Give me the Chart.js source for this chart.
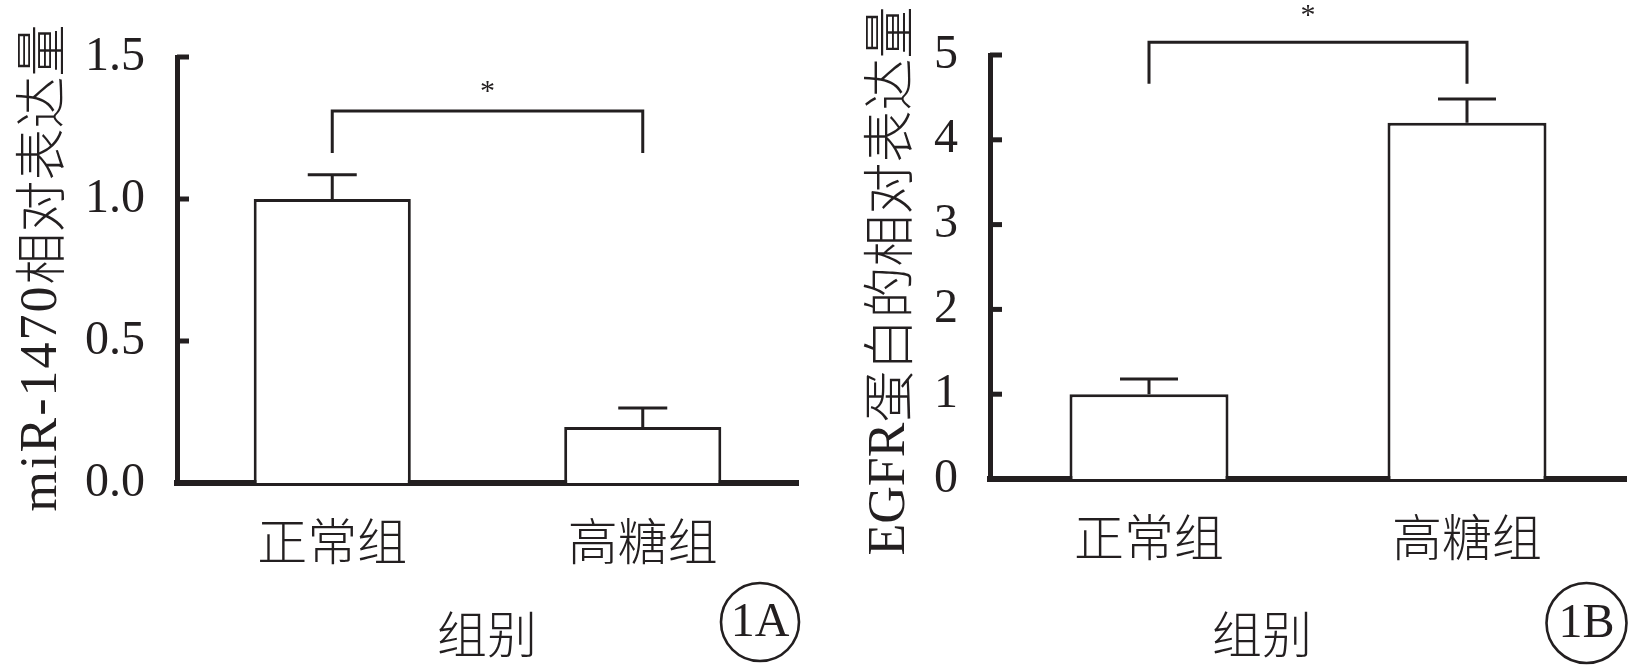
<!DOCTYPE html>
<html><head><meta charset="utf-8">
<script src="https://cdn.jsdelivr.net/npm/chart.js@4"></script>
<style>
html,body{margin:0;padding:0;background:#fff;width:1634px;height:669px;overflow:hidden}
canvas{position:absolute;top:0}
#cA{left:0}
#cB{left:817px}
</style></head><body>
<canvas id="cA" width="817" height="669"></canvas>
<canvas id="cB" width="817" height="669"></canvas>
<script>
// ---- data ----
const categories = ['正常组', '高糖组'];
const mirValues = [1.0, 0.197];
const mirErrors = [0.085, 0.067];
const mirTicks = [0, 0.5, 1.0, 1.5];
const mirBracket = [1.31, 1.162];   // bracket level, leg end
const mirStar = 1.403;
const egfrValues = [1.0, 4.20];
const egfrErrors = [0.18, 0.28];
const egfrTicks = [0, 1, 2, 3, 4, 5];
const egfrBracket = [5.15, 4.66];
const egfrStar = 5.548;

const INK = '#231f20';
const SERIF = '"Liberation Serif", "Times New Roman", serif';
const CJK = '"Noto Sans CJK SC", "Noto Sans CJK JP", sans-serif';

function annotPlugin(cfg) {
  return {
    id: 'annot',
    afterDatasetsDraw(chart) {
      const {ctx, chartArea} = chart;
      const xs = chart.scales.x, ys = chart.scales.y;
      ctx.save();
      ctx.strokeStyle = INK; ctx.fillStyle = INK; ctx.lineCap = 'butt'; ctx.lineJoin = 'miter';
      // inward ticks
      ctx.lineWidth = 5;
      ys.ticks.forEach(t => {
        const py = ys.getPixelForValue(t.value);
        ctx.beginPath(); ctx.moveTo(chartArea.left, py); ctx.lineTo(chartArea.left + 12, py); ctx.stroke();
      });
      // error bars
      ctx.lineWidth = 3;
      cfg.values.forEach((v, i) => {
        const px = xs.getPixelForValue(i);
        const top = ys.getPixelForValue(v), end = ys.getPixelForValue(v + cfg.errors[i]);
        ctx.beginPath();
        ctx.moveTo(px, top); ctx.lineTo(px, end);
        ctx.moveTo(px - cfg.cap / 2, end); ctx.lineTo(px + cfg.cap / 2, end);
        ctx.stroke();
      });
      // significance bracket
      const x0 = xs.getPixelForValue(0), x1 = xs.getPixelForValue(1);
      const by = ys.getPixelForValue(cfg.bracket[0]), ly = ys.getPixelForValue(cfg.bracket[1]);
      ctx.beginPath();
      ctx.moveTo(x0, ly); ctx.lineTo(x0, by); ctx.lineTo(x1, by); ctx.lineTo(x1, ly);
      ctx.stroke();
      // star
      ctx.font = '30px ' + SERIF;
      ctx.textAlign = 'center'; ctx.textBaseline = 'alphabetic';
      ctx.fillText('*', (x0 + x1) / 2, ys.getPixelForValue(cfg.star) + 15);
      // y title: latin part (serif) + CJK part
      ctx.save();
      ctx.translate(cfg.yTitlePos[0], cfg.yTitlePos[1]);
      ctx.rotate(-Math.PI / 2);
      ctx.textBaseline = 'middle'; ctx.textAlign = 'left';
      ctx.font = '52px ' + SERIF;
      ctx.letterSpacing = cfg.latinSpacing + 'px';
      const wL = ctx.measureText(cfg.yTitle[0]).width;
      ctx.font = '300 52px ' + CJK;
      ctx.letterSpacing = '0px';
      const wC = ctx.measureText(cfg.yTitle[1]).width;
      const start = -(wL + wC) / 2;
      ctx.font = '52px ' + SERIF;
      ctx.letterSpacing = cfg.latinSpacing + 'px';
      ctx.fillText(cfg.yTitle[0], start, 2);
      ctx.font = '300 52px ' + CJK;
      ctx.letterSpacing = '0px';
      ctx.fillText(cfg.yTitle[1], start + wL, 0);
      ctx.restore();
      // x title
      ctx.font = '300 50px ' + CJK;
      ctx.textAlign = 'center'; ctx.textBaseline = 'middle';
      ctx.fillText('组别', cfg.xTitlePos[0], cfg.xTitlePos[1]);
      // panel label
      ctx.lineWidth = 2.6;
      ctx.beginPath();
      ctx.arc(cfg.panelPos[0], cfg.panelPos[1], cfg.panelR, 0, Math.PI * 2);
      ctx.stroke();
      ctx.font = '48px ' + SERIF;
      ctx.fillText(cfg.panel, cfg.panelPos[0], cfg.panelPos[1] + 1);
      ctx.restore();
    }
  };
}

function makeChart(id, opt) {
  return new Chart(document.getElementById(id), {
    type: 'bar',
    data: {
      labels: categories,
      datasets: [{
        data: opt.values,
        backgroundColor: '#ffffff',
        borderColor: INK,
        borderWidth: 3,
        barPercentage: opt.barPct,
        categoryPercentage: 1.0
      }]
    },
    options: {
      responsive: false,
      animation: false,
      events: [],
      layout: {padding: {left: 0, right: opt.padRight, top: opt.padTop, bottom: 0}},
      plugins: {legend: {display: false}, tooltip: {enabled: false}, title: {display: false}},
      scales: {
        x: {
          offset: true,
          grid: {display: false, drawTicks: false},
          border: {display: true, width: 6, color: INK},
          ticks: {color: INK, font: {family: CJK, size: 50, weight: 300}, padding: opt.xPad, maxRotation: 0},
          afterFit: s => { s.height = opt.xHeight; s.paddingLeft = 0; s.paddingRight = 0; }
        },
        y: {
          min: 0, max: opt.max,
          grid: {display: false, drawTicks: false},
          border: {display: true, width: 5, color: INK},
          afterBuildTicks: s => { s.ticks = opt.ticks.map(v => ({value: v})); },
          ticks: {
            color: INK, font: {family: SERIF, size: 48}, padding: 32,
            callback: v => opt.fmt(v)
          },
          afterFit: s => { s.width = opt.yWidth; s.paddingTop = 0; s.paddingBottom = 0; }
        }
      }
    },
    plugins: [annotPlugin(opt)]
  });
}

makeChart('cA', {
  values: mirValues, errors: mirErrors, ticks: mirTicks, max: 1.5,
  fmt: v => Number(v).toFixed(1),
  bracket: mirBracket, star: mirStar, cap: 49, barPct: 0.506,
  yWidth: 177, padRight: 19, padTop: 57, xHeight: 186, xPad: 28,
  yTitle: ['miR-1470', '相对表达量'], latinSpacing: 2, yTitlePos: [40, 268],
  xTitlePos: [487, 634], panel: '1A', panelPos: [760, 622], panelR: 39
});
makeChart('cB', {
  values: egfrValues, errors: egfrErrors, ticks: egfrTicks, max: 5,
  fmt: v => String(v),
  bracket: egfrBracket, star: egfrStar, cap: 58, barPct: 0.5,
  yWidth: 173, padRight: 8, padTop: 55, xHeight: 190, xPad: 28,
  yTitle: ['EGFR', '蛋白的相对表达量'], latinSpacing: 0, yTitlePos: [71, 281],
  xTitlePos: [445, 634], panel: '1B', panelPos: [769.5, 623], panelR: 40
});
</script>
</body></html>
